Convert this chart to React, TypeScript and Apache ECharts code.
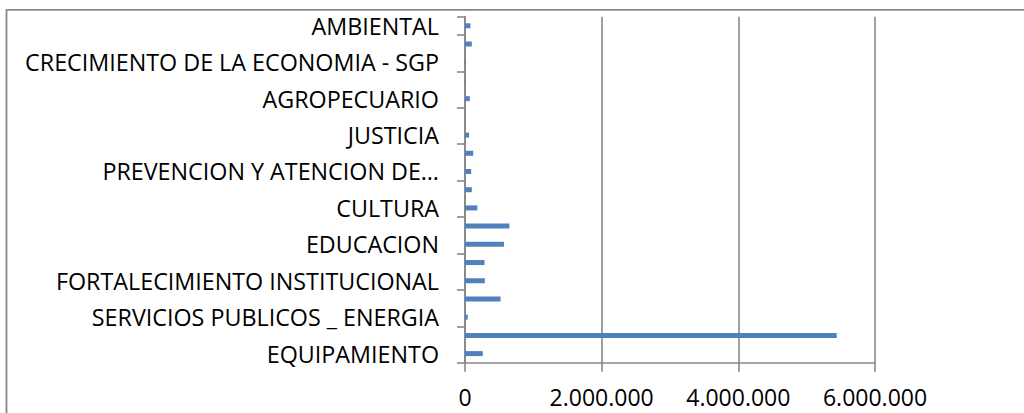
import React, { useEffect, useRef } from "react";
import * as echarts from "echarts";

// Categories listed from bottom (index 0) to top
const categories: string[] = [
  "EQUIPAMIENTO",
  "TRANSPORTE",
  "SERVICIOS PUBLICOS _ ENERGIA",
  "AGUA POTABLE Y SANEAMIENTO BASICO",
  "FORTALECIMIENTO INSTITUCIONAL",
  "VIVIENDA",
  "EDUCACION",
  "SALUD",
  "CULTURA",
  "DEPORTE Y RECREACION",
  "PREVENCION Y ATENCION DE DESASTRES",
  "ATENCION A GRUPOS VULNERABLES",
  "JUSTICIA",
  "CENTROS DE RECLUSION",
  "AGROPECUARIO",
  "PROMOCION DEL DESARROLLO",
  "CRECIMIENTO DE LA ECONOMIA - SGP",
  "DESARROLLO COMUNITARIO",
  "AMBIENTAL",
];

const values: number[] = [
  260000, 5440000, 40000, 520000, 290000, 285000, 570000, 650000, 180000,
  100000, 90000, 120000, 60000, 0, 70000, 12000, 15000, 100000, 80000,
];

const xTicks = { min: 0, max: 6000000, interval: 2000000 };

const fmt = (v: number) =>
  String(Math.round(v)).replace(/\B(?=(\d{3})+(?!\d))/g, ".");

export default function App() {
  const ref = useRef<HTMLDivElement>(null);
  useEffect(() => {
    if (!ref.current) return;
    const chart = echarts.init(ref.current, undefined, { renderer: "svg" });
    const font = "'Open Sans', sans-serif";
    chart.setOption({
      animation: false,
      grid: { left: 465, right: 149, top: 16.7, bottom: 50.3, containLabel: false },
      graphic: [
        {
          type: "rect",
          shape: { x: 6.5, y: 9.8, width: 1200, height: 600 },
          style: { fill: "none", stroke: "#898989", lineWidth: 1.8 },
          silent: true,
        },
      ],
      xAxis: {
        type: "value",
        min: xTicks.min,
        max: xTicks.max,
        interval: xTicks.interval,
        axisLine: { show: true, lineStyle: { color: "#888888", width: 1.6 } },
        axisTick: { show: true, length: 9, lineStyle: { color: "#888888", width: 1.6 } },
        splitLine: { show: true, lineStyle: { color: "#888888", width: 1.6 } },
        axisLabel: {
          color: "#000",
          fontFamily: font,
          fontSize: 23,
          lineHeight: 20,
          verticalAlign: "top",
          margin: 24,
          formatter: (v: number) => fmt(v),
        },
      },
      yAxis: {
        type: "category",
        data: categories,
        axisLine: { show: true, lineStyle: { color: "#888888", width: 1.8 } },
        axisTick: { show: true, length: 8, lineStyle: { color: "#888888", width: 1.6 } },
        axisLabel: {
          interval: 1,
          color: "#000",
          fontFamily: font,
          fontSize: 23.3,
          margin: 26,
          formatter: (v: string) => (v.length > 32 ? v.slice(0, 24) + "…" : v),
        },
      },
      series: [
        {
          type: "bar",
          data: values,
          barWidth: 5,
          itemStyle: { color: "#4F81BD" },
        },
      ],
    });
    return () => chart.dispose();
  }, []);
  return (
    <div
      ref={ref}
      style={{ position: "absolute", left: 0, top: 0, width: 1024, height: 413 }}
    />
  );
}
